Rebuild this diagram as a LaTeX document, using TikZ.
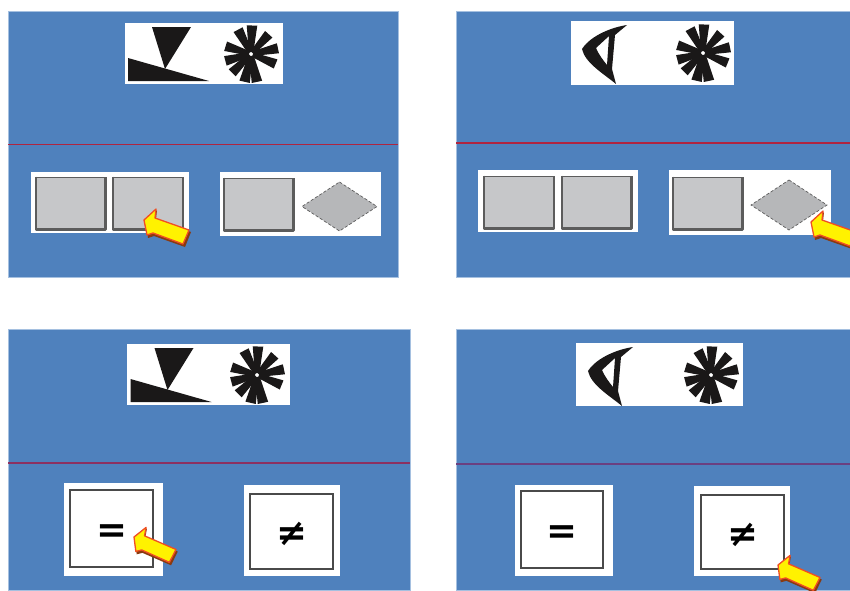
\documentclass[tikz,border=0pt]{standalone}
\usepackage{fontspec}
\usepackage{xcolor}
\setmainfont{DejaVu Sans}
\usetikzlibrary{positioning}
\definecolor{panelBlue}{HTML}{4F81BD}
\definecolor{panelEdge}{HTML}{A5C0E0}
\definecolor{ruleRed}{HTML}{B0243F}
\definecolor{rulePlum}{HTML}{8C3060}
\definecolor{rulePurple}{HTML}{6B3F80}
\definecolor{keyGray}{HTML}{C6C7C9}
\definecolor{keyEdge}{HTML}{5C5C5C}
\definecolor{iconInk}{HTML}{1A1818}
\definecolor{pointerFill}{HTML}{FFF200}
\definecolor{pointerEdge}{HTML}{F04E23}
\definecolor{pointerShade}{HTML}{8A3A10}
\tikzset{
  panel/.style={
    rectangle,
    draw=panelEdge,
    fill=panelBlue,
    line width=0.6pt,
    inner sep=0pt
  },
  whitebox/.style={
    rectangle,
    fill=white,
    inner sep=0pt
  },
  graykey/.style={
    rectangle,
    draw=keyEdge,
    fill=keyGray,
    line width=0.8pt,
    inner sep=0pt,
    minimum width=69pt,
    minimum height=52pt
  },
  graydiamond/.style={
    draw=keyEdge,
    fill=keyGray!92!black,
    line width=0.7pt,
    densely dashed
  },
  keyshade/.style={
    draw=keyEdge,
    line width=2.2pt,
    line join=round
  },
  answerkey/.style={
    rectangle,
    draw=keyEdge!80!black,
    fill=white,
    line width=1.5pt,
    inner sep=0pt,
    font=\fontsize{37}{37}\selectfont\bfseries
  },
  divider/.style={
    line width=1.8pt
  },
  icon/.style={
    fill=iconInk,
    draw=none
  },
  wedgeicon/.pic={
    \fill[icon] (27,-4) -- (66,-4) -- (40,-46) -- cycle;
    \fill[icon] (3,-35) -- (3,-58) -- (84,-58) -- cycle;
  },
  eyeicon/.pic={
    \fill[icon,even odd rule] (56,-4) .. controls (42,-6) and (20,-14) .. (11,-28)
      .. controls (14,-42) and (33,-53) .. (45,-63)
      -- (41,-48) -- (44,-14) -- cycle
      (38,-15) -- (25,-27) .. controls (28,-34) and (32,-39) .. (36,-44) -- cycle;
  },
  wheelicon/.pic={
    \foreach \spoke/\reach in {88/29,48/27,12/28,-22/27,-78/29,-103/29,-135/27,-165/27,163/27,118/28}{
      \fill[icon] (\spoke-50:3) -- (\spoke-10.5:\reach) -- (\spoke+10.5:\reach) -- (\spoke+50:3) -- cycle;
    }
  },
  pointer/.pic={
    \fill[pointerShade] (2,-3) -- (13,10) -- (12,1) -- (47,-12) -- (41,-27) -- (10,-16) -- (4,-18) -- cycle;
    \draw[fill=pointerFill,draw=pointerEdge,line width=1.3pt,line join=round]
      (0,0) -- (12,11) -- (11,2) -- (45,-10) -- (39,-24) -- (9,-13) -- (3,-15) -- cycle;
  }
}
\begin{document}
\begin{tikzpicture}[x=1pt,y=1pt]
  \useasboundingbox (0,0) rectangle (850,-590);
  \fill[white] (0,0) rectangle (850,-590);
  % panels
  \node[panel,minimum width=390pt,minimum height=266pt] (panelA) at (203,-144) {};
  \node[panel,minimum width=394pt,minimum height=266pt] (panelB) at (653,-144) {};
  \node[panel,minimum width=402pt,minimum height=261pt] (panelC) at (209,-459.5) {};
  \node[panel,minimum width=394pt,minimum height=261pt] (panelD) at (653,-459.5) {};
  \coordinate (ruleAw) at (8,-144.5);
  \coordinate (ruleAe) at (398,-144.5);
  \coordinate (ruleBw) at (456,-143);
  \coordinate (ruleBe) at (850,-143);
  \coordinate (ruleCw) at (8,-463);
  \coordinate (ruleCe) at (410,-463);
  \coordinate (ruleDw) at (456,-464);
  \coordinate (ruleDe) at (850,-464);
  \draw[divider,ruleRed] (ruleAw) -- (ruleAe);
  \draw[divider,ruleRed] (ruleBw) -- (ruleBe);
  \draw[divider,rulePlum] (ruleCw) -- (ruleCe);
  \draw[divider,rulePurple] (ruleDw) -- (ruleDe);
  % top cards
  \node[whitebox,minimum width=158pt,minimum height=61pt] (cardA) at (204,-53.5) {};
  \node[whitebox,minimum width=163pt,minimum height=64pt] (cardB) at (652.5,-53) {};
  \node[whitebox,minimum width=163pt,minimum height=61pt] (cardC) at (208.5,-374.5) {};
  \node[whitebox,minimum width=167pt,minimum height=63pt] (cardD) at (659.5,-374.5) {};
  \pic at (125,-23) {wedgeicon};
  \pic at (571,-21) {eyeicon};
  \pic at (127.5,-344) {wedgeicon};
  \pic at (577,-343) {eyeicon};
  \pic at (251,-54) {wheelicon};
  \pic at (703,-53) {wheelicon};
  \pic at (257,-375) {wheelicon};
  \pic at (711,-375) {wheelicon};
  % gray choices
  \node[whitebox,minimum width=158pt,minimum height=61pt] (choiceAl) at (110,-202.5) {};
  \node[whitebox,minimum width=161pt,minimum height=64pt] (choiceAr) at (300.5,-204) {};
  \node[whitebox,minimum width=160pt,minimum height=62pt] (choiceBl) at (558,-201) {};
  \node[whitebox,minimum width=162pt,minimum height=65pt] (choiceBr) at (750,-202.5) {};
  \node[graykey] (keyAa) at (70.5,-203) {};
  \node[graykey] (keyAb) at (148,-203) {};
  \node[graykey] (keyAc) at (258.5,-204) {};
  \node[graykey] (keyBa) at (519,-202) {};
  \node[graykey] (keyBb) at (596.5,-202) {};
  \node[graykey] (keyBc) at (707.5,-203) {};
  \foreach \key in {keyAa,keyAb,keyAc,keyBa,keyBb,keyBc}{
    \draw[keyshade] (\key.north west) |- (\key.south east) -- (\key.north east);
  }
  \coordinate (diaAn) at (339.5,-182);
  \coordinate (diaAe) at (377,-206.5);
  \coordinate (diaAs) at (339.5,-231);
  \coordinate (diaAw) at (302,-206.5);
  \coordinate (diaBn) at (789,-180);
  \coordinate (diaBe) at (827,-205);
  \coordinate (diaBs) at (789,-230);
  \coordinate (diaBw) at (751,-205);
  \draw[graydiamond] (diaAn) -- (diaAe) -- (diaAs) -- (diaAw) -- cycle;
  \draw[graydiamond] (diaBn) -- (diaBe) -- (diaBs) -- (diaBw) -- cycle;
  % answer choices
  \node[whitebox,minimum width=99pt,minimum height=93pt] (answerCl) at (113.5,-529.5) {};
  \node[whitebox,minimum width=96pt,minimum height=91pt] (answerCr) at (292,-530.5) {};
  \node[whitebox,minimum width=98pt,minimum height=91pt] (answerDl) at (564,-530.5) {};
  \node[whitebox,minimum width=96pt,minimum height=90pt] (answerDr) at (742,-531) {};
  \node[answerkey,minimum width=83pt,minimum height=77pt] (equalC) at (111.5,-528.5) {\raisebox{-14pt}[0pt][0pt]{=}};
  \node[answerkey,minimum width=83pt,minimum height=75pt] (differC) at (291.5,-531.5) {\raisebox{-14pt}[0pt][0pt]{≠}};
  \node[answerkey,minimum width=82pt,minimum height=77pt] (equalD) at (562,-529.5) {\raisebox{-14pt}[0pt][0pt]{=}};
  \node[answerkey,minimum width=83pt,minimum height=74pt] (differD) at (742.5,-532) {\raisebox{-14pt}[0pt][0pt]{≠}};
  % pointers
  \pic at (144,-220) {pointer};
  \pic at (811,-222) {pointer};
  \pic[scale=0.95,rotate=-4] at (134,-537) {pointer};
  \pic[scale=0.95,rotate=-4] at (778,-565) {pointer};
\end{tikzpicture}
\end{document}
